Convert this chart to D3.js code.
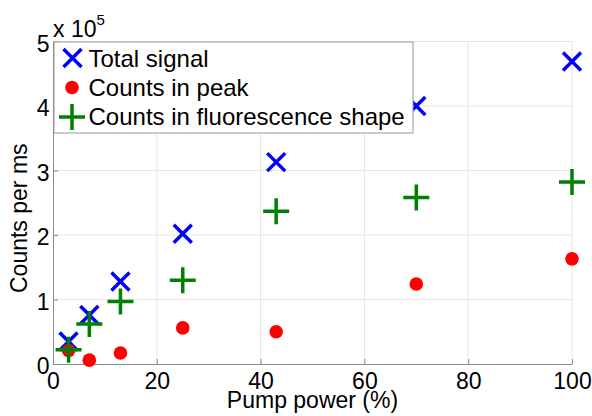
<!DOCTYPE html>
<html>
<head>
<meta charset="utf-8">
<script src="https://cdn.jsdelivr.net/npm/d3@7"></script>
<style>
  html, body { margin: 0; padding: 0; background: #fff; }
  svg { display: block; }
  text { font-family: "Liberation Sans", Arial, sans-serif; fill: #000; }
</style>
</head>
<body>
<svg id="chart" width="592" height="416"></svg>
<script>
// Pump power settings (%)
const pumpPower = [3, 7, 13, 25, 43, 70, 100];
// Counts per ms
const totalSignal = [35000, 76000, 128000, 202000, 313000, 400000, 469000];
const countsInPeak = [21000, 6000, 17000, 56000, 50000, 124000, 163000];
const countsInFluorescence = [22000, 62000, 97000, 130000, 237000, 258000, 282000];

const xTicks = [0, 20, 40, 60, 80, 100];
const yTicks = [0, 1, 2, 3, 4, 5];
const seriesNames = ["Total signal", "Counts in peak", "Counts in fluorescence shape"];

const svg = d3.select("#chart");
const plotLeft = 53, plotRight = 572, plotTop = 41.5, plotBottom = 364;

const x = d3.scaleLinear().domain([0, 100]).range([plotLeft, plotRight]);
const y = d3.scaleLinear().domain([0, 5e5]).range([plotBottom, plotTop]);

const gridColor = "#e6e6e6";
const axisColor = "#8c8c8c";
const fontSize = 23;

// grid lines
const grid = svg.append("g");
grid.selectAll("line.gx").data(xTicks.slice(1)).join("line")
  .attr("x1", d => x(d)).attr("x2", d => x(d))
  .attr("y1", plotTop).attr("y2", plotBottom)
  .attr("stroke", gridColor).attr("stroke-width", 1);
grid.selectAll("line.gy").data(yTicks.slice(1)).join("line")
  .attr("x1", plotLeft).attr("x2", plotRight)
  .attr("y1", d => y(d * 1e5)).attr("y2", d => y(d * 1e5))
  .attr("stroke", gridColor).attr("stroke-width", 1);

// axes with inward ticks
const xAxis = d3.axisBottom(x).tickValues(xTicks).tickSizeInner(-5).tickSizeOuter(0).tickPadding(9);
const yAxis = d3.axisLeft(y).tickValues(yTicks.map(t => t * 1e5)).tickSizeInner(-5).tickSizeOuter(0)
  .tickPadding(3.5).tickFormat(d => String(d / 1e5));

const gx = svg.append("g").attr("transform", `translate(0,${plotBottom})`).call(xAxis);
const gy = svg.append("g").attr("transform", `translate(${plotLeft},0)`).call(yAxis);
[gx, gy].forEach(g => {
  g.select(".domain").attr("stroke", axisColor).attr("stroke-width", 1);
  g.selectAll(".tick line").attr("stroke", axisColor);
  g.selectAll(".tick text").attr("font-size", fontSize)
    .attr("font-family", "'Liberation Sans', Arial, sans-serif").attr("fill", "#000");
});
gx.selectAll(".tick text").attr("dy", "0.71em");
gy.selectAll(".tick text").attr("dy", "0.42em");

// exponent label
const expo = svg.append("text").attr("x", plotLeft).attr("y", 36.5).attr("font-size", fontSize);
expo.append("tspan").text("x 10");
expo.append("tspan").attr("font-size", 15).attr("dy", -11.5).text("5");

// axis titles
svg.append("text").attr("x", (plotLeft + plotRight) / 2).attr("y", 407.5)
  .attr("text-anchor", "middle").attr("font-size", fontSize).text("Pump power (%)");
svg.append("text").attr("transform", "translate(27,293) rotate(-90)")
  .attr("text-anchor", "start").attr("font-size", fontSize).text("Counts per ms");

// marker shapes
const crossPath = h => `M${-h},${-h}L${h},${h}M${-h},${h}L${h},${-h}`;
const plusPath = h => `M${-h},0L${h},0M0,${-h}L0,${h}`;

const marks = svg.append("g");
function drawX(g, cx, cy) {
  g.append("path").attr("d", crossPath(9)).attr("transform", `translate(${cx},${cy})`)
    .attr("stroke", "#0000ff").attr("stroke-width", 3.5).attr("fill", "none");
}
function drawDot(g, cx, cy) {
  g.append("circle").attr("cx", cx).attr("cy", cy).attr("r", 6.8).attr("fill", "#ff0000");
}
function drawPlus(g, cx, cy) {
  g.append("path").attr("d", plusPath(13)).attr("transform", `translate(${cx},${cy})`)
    .attr("stroke", "#008000").attr("stroke-width", 3.5).attr("fill", "none");
}

pumpPower.forEach((p, i) => drawX(marks, x(p), y(totalSignal[i])));
pumpPower.forEach((p, i) => drawDot(marks, x(p), y(countsInPeak[i])));
pumpPower.forEach((p, i) => drawPlus(marks, x(p), y(countsInFluorescence[i])));

// legend
const lg = svg.append("g");
lg.append("rect").attr("x", 54).attr("y", 42).attr("width", 359).attr("height", 91)
  .attr("fill", "#fff").attr("stroke", "#999").attr("stroke-width", 1);
const markerY = [58, 87.5, 117];
const textY = [66.5, 95.5, 124.5];
drawX(lg, 72.5, markerY[0]);
drawDot(lg, 72, markerY[1]);
drawPlus(lg, 72, markerY[2]);
lg.selectAll("text.entry").data(seriesNames).join("text")
  .attr("class", "entry")
  .attr("x", 88.5).attr("y", (d, i) => textY[i])
  .attr("font-size", 24).text(d => d);
</script>
</body>
</html>
